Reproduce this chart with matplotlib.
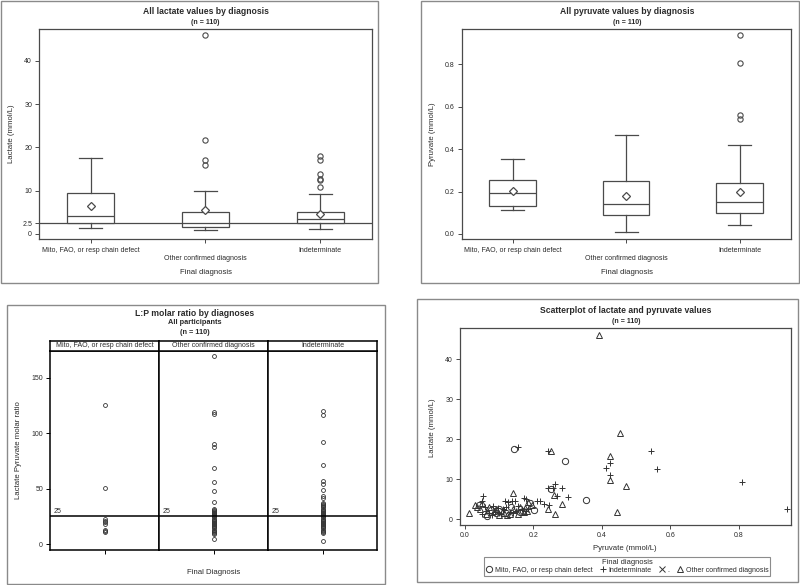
import matplotlib
matplotlib.use('Agg')
import matplotlib.pyplot as plt
from matplotlib.patches import Rectangle
from matplotlib.lines import Line2D

plt.rcParams['font.family'] = ['Liberation Sans', 'DejaVu Sans']

# ---------------- data ----------------
groups = ['Mito, FAO, or resp chain defect', 'Other confirmed diagnosis', 'Indeterminate']

# lactate box statistics (mmol/L)
lac_whislo = [1.46, 0.85, 1.08]
lac_q1 = [2.5, 1.6, 2.4]
lac_med = [4.2, 2.6, 3.4]
lac_q3 = [9.55, 5.1, 5.0]
lac_whishi = [17.6, 9.8, 9.2]
lac_mean = [6.4, 5.5, 4.6]
lac_fliers = [[], [46.0, 21.6, 17.0, 16.0], [18.1, 17.0, 13.9, 12.6, 12.4, 10.9]]

# pyruvate box statistics (mmol/L)
pyr_whislo = [0.115, 0.008, 0.041]
pyr_q1 = [0.133, 0.088, 0.100]
pyr_med = [0.195, 0.140, 0.151]
pyr_q3 = [0.253, 0.250, 0.239]
pyr_whishi = [0.352, 0.467, 0.420]
pyr_mean = [0.203, 0.181, 0.197]
pyr_fliers = [[], [], [0.94, 0.808, 0.563, 0.542]]

# L:P molar ratios per diagnosis
lp_mito = [125.6, 50.2, 22.3, 21.0, 20.1, 18.3, 12.9, 12.0, 11.1]
lp_other = [169.8, 119.3, 117.5, 90.2, 87.7, 68.2, 55.6, 47.8, 37.9,
            32, 31, 30, 29, 28, 27, 26, 25, 24, 23, 22, 21, 20, 19, 18, 17,
            16, 15, 14, 13, 12, 11, 10, 9, 4.8]
lp_indet = [119.7, 116.1, 92.2, 71.2, 56.8, 54.4, 48.7, 43.3, 41.2,
            37, 36, 35, 34, 33, 32, 31, 30, 29, 28, 27, 26, 25, 24, 23, 22,
            21, 20, 19, 18, 17, 16, 15, 14, 13, 12, 11, 10, 2.4]
lp_values = [lp_mito, lp_other, lp_indet]
lp_ref = 25

# scatter: pyruvate, lactate per group
mito_pyr = [0.144, 0.291, 0.353, 0.201, 0.190, 0.250, 0.063, 0.041, 0.170, 0.120, 0.100, 0.135, 0.160, 0.075, 0.090]
mito_lac = [17.5, 14.6, 4.7, 2.3, 4.1, 7.4, 0.8, 3.4, 2.0, 1.6, 2.5, 3.0, 1.8, 2.2, 1.4]
ind_pyr = [0.939, 0.808, 0.560, 0.542, 0.412, 0.422, 0.422, 0.154, 0.241, 0.302, 0.282, 0.264, 0.242, 0.256,
           0.270, 0.245, 0.219, 0.054, 0.049, 0.083, 0.173, 0.178, 0.117, 0.136, 0.150, 0.125, 0.145, 0.210,
           0.230, 0.060, 0.070, 0.095, 0.105, 0.115, 0.130, 0.140, 0.165, 0.185, 0.050, 0.080, 0.100, 0.120,
           0.155, 0.058, 0.088, 0.110]
ind_lac = [2.5, 9.2, 12.6, 17.0, 12.7, 14.1, 11.0, 18.1, 17.0, 5.4, 7.8, 8.9, 7.7, 7.8,
           5.7, 3.6, 4.6, 5.8, 4.4, 3.3, 5.2, 4.9, 4.4, 4.4, 2.0, 4.2, 4.5, 4.5,
           3.8, 2.0, 1.5, 2.8, 1.2, 2.2, 1.8, 1.4, 2.6, 2.4, 1.2, 1.0, 1.6, 3.0,
           3.2, 3.0, 1.8, 2.6]
oth_pyr = [0.392, 0.452, 0.252, 0.422, 0.422, 0.471, 0.445, 0.139, 0.012, 0.263, 0.242, 0.283, 0.260,
           0.030, 0.036, 0.172, 0.180, 0.122, 0.045, 0.060, 0.085, 0.100, 0.115, 0.140, 0.160, 0.175,
           0.195, 0.070, 0.130, 0.155, 0.090, 0.185, 0.050]
oth_lac = [46.1, 21.5, 17.0, 15.9, 9.8, 8.3, 1.8, 6.5, 1.6, 1.25, 2.5, 3.8, 6.0,
           3.5, 3.1, 1.8, 2.1, 1.0, 2.5, 1.3, 2.0, 1.1, 1.5, 2.6, 3.0, 2.8,
           3.6, 2.9, 1.3, 1.2, 2.4, 4.3, 3.9]

# ---------------- layout helpers ----------------
W, H = 800, 585
fig = plt.figure(figsize=(W / 100, H / 100), dpi=100)
EC = '#4a4a4a'
TC = '#2a2a2a'
FS = 5.0
TFS = 6.2


def rect(l, t, r, b):
    return [l / W, 1 - b / H, (r - l) / W, (b - t) / H]


def ftext(x, y, s, **kw):
    kw.setdefault('ha', 'center')
    kw.setdefault('va', 'center')
    kw.setdefault('color', TC)
    fig.text(x / W, 1 - y / H, s, **kw)


def frame(l, t, r, b, color='#8a8a8a', lw=1.0):
    fig.add_artist(Rectangle((l / W, 1 - b / H), (r - l) / W, (b - t) / H,
                             transform=fig.transFigure, fill=False, edgecolor=color, lw=lw))


def style_axes(ax, color=EC, lw=0.9):
    for s in ax.spines.values():
        s.set_color(color)
        s.set_linewidth(lw)
    ax.tick_params(labelsize=FS, length=3, width=0.7, color=color, labelcolor=TC, pad=2)


def box_stats(wlo, q1, med, q3, whi, mean, fl):
    return [dict(whislo=wlo[i], q1=q1[i], med=med[i], q3=q3[i], whishi=whi[i],
                 mean=mean[i], fliers=fl[i]) for i in range(3)]


def boxpanel(ax, stats):
    ax.bxp(stats, positions=[0, 1, 2], widths=0.41, capwidths=0.2, showmeans=True,
           showfliers=True, patch_artist=True,
           boxprops=dict(facecolor='white', edgecolor=EC, lw=0.9),
           whiskerprops=dict(color=EC, lw=0.9), capprops=dict(color=EC, lw=0.9),
           medianprops=dict(color=EC, lw=0.9),
           meanprops=dict(marker='D', markerfacecolor='white', markeredgecolor=EC,
                          markersize=3.6, markeredgewidth=0.9),
           flierprops=dict(marker='o', markerfacecolor='none', markeredgecolor=EC,
                           markersize=3.8, markeredgewidth=0.8))
    ax.set_xlim(-0.45, 2.45)
    ax.set_xticks([0, 1, 2])
    ax.set_xticklabels([groups[0], '\n' + groups[1], groups[2]])
    style_axes(ax)
    ax.tick_params(axis='x', pad=3)


# ---------------- panel 1: lactate ----------------
frame(1, 1, 378, 283)
ax1 = fig.add_axes(rect(39, 29, 372, 239))
boxpanel(ax1, box_stats(lac_whislo, lac_q1, lac_med, lac_q3, lac_whishi, lac_mean, lac_fliers))
ax1.axhline(2.5, color=EC, lw=0.9, zorder=0)
ax1.set_ylim(-1.2, 47.4)
ax1.set_yticks([0, 2.5, 10, 20, 30, 40])
ax1.set_yticklabels(['0', '2.5', '10', '20', '30', '40'])
ftext(205.5, 12, 'All lactate values by diagnosis', fontsize=TFS, fontweight='bold')
ftext(205.5, 22, '(n = 110)', fontsize=FS, fontweight='bold')
ftext(205.5, 272, 'Final diagnosis', fontsize=FS + 0.6)
ftext(12, 134, 'Lactate (mmol/L)', fontsize=FS + 0.6, rotation=90)

# ---------------- panel 2: pyruvate ----------------
frame(421, 1, 799, 283)
ax2 = fig.add_axes(rect(461.7, 29.3, 790.7, 239))
boxpanel(ax2, box_stats(pyr_whislo, pyr_q1, pyr_med, pyr_q3, pyr_whishi, pyr_mean, pyr_fliers))
ax2.set_ylim(-0.024, 0.965)
ax2.set_yticks([0, 0.2, 0.4, 0.6, 0.8])
ax2.set_yticklabels(['0.0', '0.2', '0.4', '0.6', '0.8'])
ftext(627, 12, 'All pyruvate values by diagnosis', fontsize=TFS, fontweight='bold')
ftext(627, 22, '(n = 110)', fontsize=FS, fontweight='bold')
ftext(627, 272, 'Final diagnosis', fontsize=FS + 0.6)
ftext(433, 134, 'Pyruvate (mmol/L)', fontsize=FS + 0.6, rotation=90)

# ---------------- panel 3: L:P ratio ----------------
frame(7, 305, 385, 584)
edges = [50, 159, 268.3, 377.3]
for i in range(3):
    ax = fig.add_axes(rect(edges[i], 350.7, edges[i + 1], 550))
    vals = lp_values[i]
    ax.plot([0] * len(vals), vals, 'o', mfc='none', mec='#333333', ms=2.8, mew=0.6)
    ax.set_xlim(-1, 1)
    ax.set_ylim(-5.4, 174.3)
    ax.axhline(lp_ref, color='black', lw=1.1)
    ax.text(0.03, lp_ref + 1.5, str(lp_ref), transform=ax.get_yaxis_transform(),
            fontsize=FS, color=TC, ha='left', va='bottom')
    style_axes(ax, color='black', lw=1.1)
    ax.set_xticks([0])
    ax.set_xticklabels([''])
    if i == 0:
        ax.set_yticks([0, 50, 100, 150])
    else:
        ax.set_yticks([])
    sax = fig.add_axes(rect(edges[i], 340.7, edges[i + 1], 350.7))
    sax.set_xticks([])
    sax.set_yticks([])
    for s in sax.spines.values():
        s.set_color('black')
        s.set_linewidth(1.1)
    sax.text(0.5, 0.5, groups[i], transform=sax.transAxes, ha='center', va='center',
             fontsize=FS, color=TC)
ftext(195, 313, 'L:P molar ratio by diagnoses', fontsize=TFS, fontweight='bold')
ftext(195, 323, 'All participants', fontsize=FS + 0.3, fontweight='bold')
ftext(195, 332.5, '(n = 110)', fontsize=FS + 0.3, fontweight='bold')
ftext(213.5, 573, 'Final Diagnosis', fontsize=FS + 0.6)
ftext(19, 450, 'Lactate Pyruvate molar ratio', fontsize=FS + 0.6, rotation=90)

# ---------------- panel 4: scatter ----------------
frame(417, 299, 798, 582)
ax4 = fig.add_axes(rect(460, 328.3, 790.7, 525))
mk = dict(color='#333333', mfc='none', mew=0.7, ls='none')
h1, = ax4.plot(mito_pyr, mito_lac, 'o', ms=4.5, **mk)
h2, = ax4.plot(ind_pyr, ind_lac, '+', ms=5, **mk)
h4, = ax4.plot(oth_pyr, oth_lac, '^', ms=4.5, **mk)
h3 = Line2D([], [], marker='x', ms=4.5, **mk)
ax4.set_xlim(-0.0146, 0.951)
ax4.set_ylim(-1.5, 47.8)
ax4.set_xticks([0, 0.2, 0.4, 0.6, 0.8])
ax4.set_xticklabels(['0.0', '0.2', '0.4', '0.6', '0.8'])
ax4.set_yticks([0, 10, 20, 30, 40])
style_axes(ax4)
ftext(626, 310.5, 'Scatterplot of lactate and pyruvate values', fontsize=TFS, fontweight='bold')
ftext(626, 321, '(n = 110)', fontsize=FS, fontweight='bold')
ftext(625, 548, 'Pyruvate (mmol/L)', fontsize=FS + 0.6)
ftext(433, 428, 'Lactate (mmol/L)', fontsize=FS + 0.6, rotation=90)
leg = fig.legend([h1, h2, h3, h4],
                 ['Mito, FAO, or resp chain defect', 'Indeterminate', '.', 'Other confirmed diagnosis'],
                 loc='center', bbox_to_anchor=(627 / W, 1 - 566.5 / H), ncol=4,
                 title='Final diagnosis', fontsize=FS, title_fontsize=FS + 0.4, frameon=True,
                 fancybox=False, edgecolor='#707070', borderpad=0.25, handletextpad=0.3,
                 columnspacing=1.0, handlelength=1.0, labelspacing=0.1, borderaxespad=0)
leg.get_frame().set_linewidth(0.8)
for t in leg.get_texts():
    t.set_color(TC)
leg.get_title().set_color(TC)

fig.savefig('out.png', dpi=100, facecolor='white')
